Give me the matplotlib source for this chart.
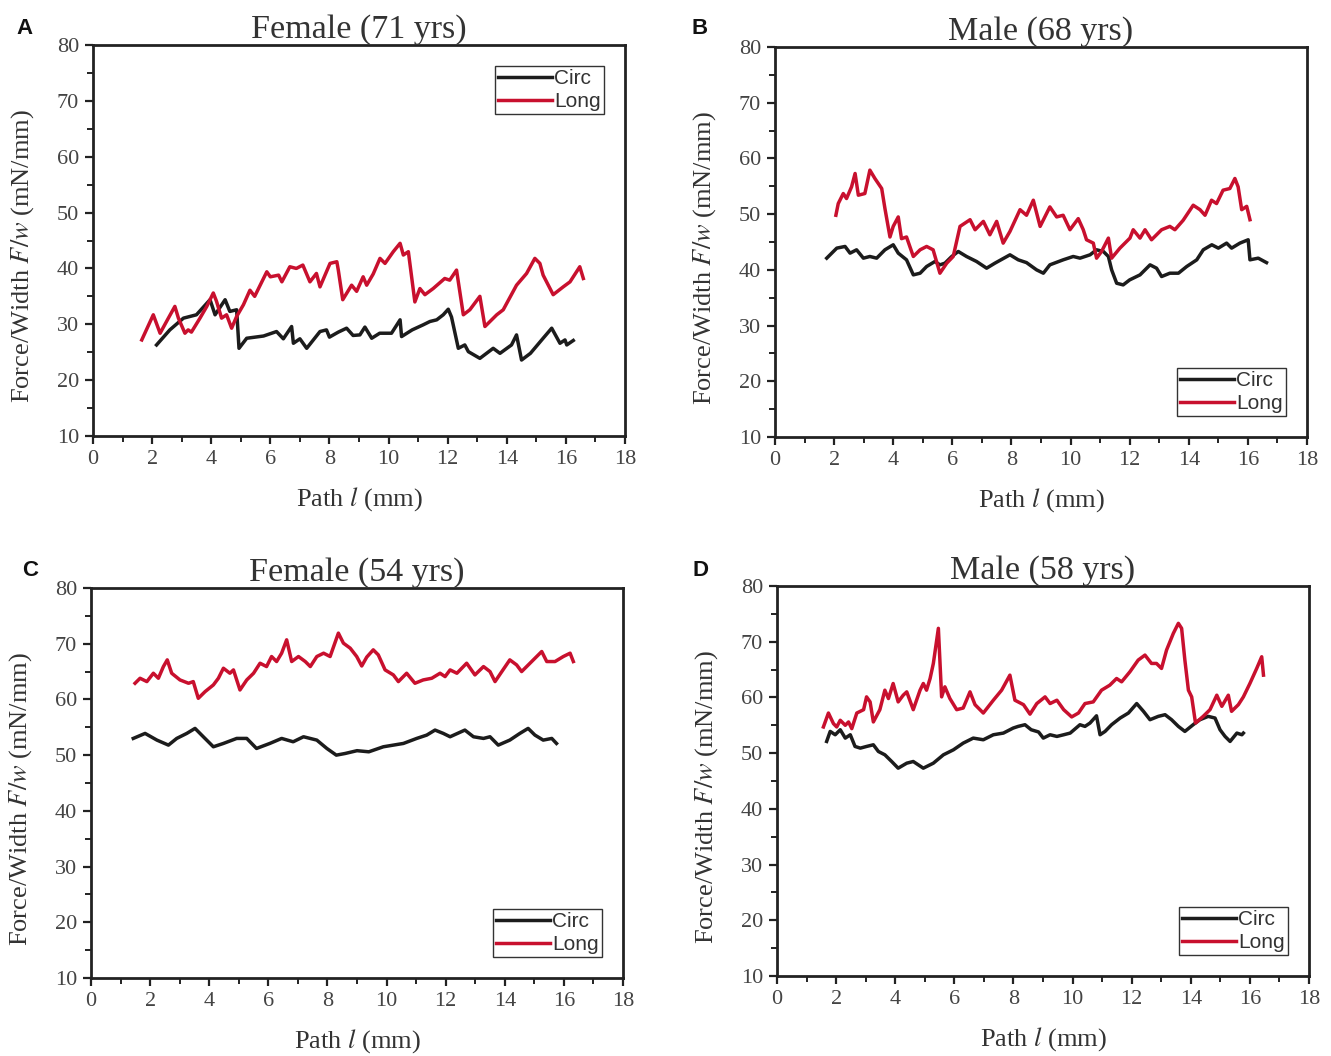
import matplotlib
matplotlib.use("Agg")
import matplotlib.pyplot as plt
from matplotlib.ticker import MultipleLocator

plt.rcParams['font.family'] = ['Liberation Serif', 'DejaVu Serif']
plt.rcParams['mathtext.fontset'] = 'stix'

# ---------------- Panel A: Female (71 yrs) ----------------
a_circ_x = [2.15, 2.6, 3.06, 3.5, 3.96, 4.13, 4.47, 4.63, 4.86, 4.94, 5.2, 5.77, 6.21, 6.44, 6.72, 6.78, 7.0,
            7.23, 7.68, 7.9, 8.0, 8.3, 8.58, 8.8, 9.03, 9.2, 9.43, 9.7, 10.1, 10.39, 10.44, 10.8, 11.17,
            11.4, 11.63, 11.85, 12.02, 12.13, 12.36, 12.58, 12.7, 13.09, 13.54, 13.77, 14.16, 14.33, 14.5,
            14.8, 15.23, 15.52, 15.8, 15.97, 16.03, 16.25]
a_circ_y = [26.3, 29.0, 31.1, 31.7, 34.4, 31.7, 34.4, 32.3, 32.6, 25.7, 27.5, 27.9, 28.7, 27.4, 29.6, 26.6, 27.4,
            25.7, 28.7, 29.0, 27.7, 28.6, 29.3, 28.0, 28.1, 29.5, 27.5, 28.4, 28.4, 30.8, 27.8, 29.0, 29.9,
            30.5, 30.8, 31.7, 32.7, 31.3, 25.7, 26.3, 25.1, 23.9, 25.7, 24.8, 26.3, 28.1, 23.6,
            24.8, 27.5, 29.3, 26.6, 27.2, 26.3, 27.1]
a_long_x = [1.65, 2.04, 2.27, 2.55, 2.77, 2.89, 3.11, 3.22, 3.33, 3.62, 3.85, 4.07, 4.18, 4.35, 4.52, 4.69, 4.86,
            5.09, 5.31, 5.47, 5.88, 6.0, 6.28, 6.39, 6.66, 6.88, 7.1, 7.34, 7.56, 7.68, 8.02, 8.25, 8.3,
            8.45, 8.75, 8.92, 9.14, 9.26, 9.48, 9.71, 9.88, 10.16, 10.39, 10.5, 10.67, 10.89, 11.06, 11.23,
            11.51, 11.9, 12.07, 12.3, 12.53, 12.75, 13.09, 13.26, 13.66, 13.88, 14.33, 14.67, 14.95, 15.12,
            15.23, 15.57, 15.91, 16.14, 16.47, 16.59]
a_long_y = [27.2, 31.7, 28.4, 31.1, 33.2, 31.1, 28.4, 29.0, 28.6, 31.1, 33.2, 35.6, 34.1, 31.1, 31.7, 29.3, 31.4,
            33.5, 36.1, 35.0, 39.4, 38.5, 38.8, 37.6, 40.3, 40.0, 40.6, 37.6, 39.1, 36.7, 40.9, 41.2, 39.7,
            34.4, 37.0, 35.9, 38.5, 37.0, 39.0, 41.8, 40.9, 43.0, 44.5, 42.4, 43.0, 34.0, 36.4, 35.3,
            36.4, 38.2, 37.9, 39.7, 31.7, 32.6, 35.0, 29.6, 31.7, 32.6, 37.0, 39.1, 41.8, 40.9,
            38.8, 35.3, 36.7, 37.6, 40.3, 38.2]

# ---------------- Panel B: Male (68 yrs) ----------------
b_circ_x = [1.75, 2.09, 2.37, 2.54, 2.76, 2.99, 3.21, 3.44, 3.72, 4.0, 4.17, 4.45, 4.68, 4.91, 5.13, 5.41, 5.58,
            5.75, 5.98, 6.2, 6.48, 6.82, 7.16, 7.44, 7.95, 8.23, 8.51, 8.85, 9.08, 9.3, 9.75, 10.09, 10.32,
            10.66, 10.88, 11.11, 11.28, 11.39, 11.56, 11.78, 12.0, 12.35, 12.69, 12.91, 13.08, 13.36, 13.65,
            13.93, 14.27, 14.49, 14.78, 15.0, 15.28, 15.45, 15.73, 16.01, 16.07, 16.35, 16.63]
b_circ_y = [42.1, 43.9, 44.2, 43.0, 43.6, 42.1, 42.4, 42.1, 43.6, 44.5, 43.0, 41.8, 39.1, 39.4, 40.6, 41.5, 40.9,
            41.2, 42.4, 43.3, 42.4, 41.5, 40.3, 41.2, 42.7, 41.8, 41.3, 40.0, 39.4, 40.9, 41.8, 42.4, 42.1,
            42.7, 43.6, 43.3, 42.4, 40.0, 37.6, 37.3, 38.2, 39.1, 40.9, 40.3, 38.8, 39.4, 39.4,
            40.6, 41.8, 43.6, 44.5, 43.9, 44.8, 43.9, 44.8, 45.4, 41.8, 42.1, 41.3]
b_long_x = [2.06, 2.14, 2.31, 2.42, 2.59, 2.71, 2.82, 3.04, 3.21, 3.38, 3.61, 3.72, 3.89, 4.0, 4.17, 4.28, 4.45,
            4.68, 4.91, 5.13, 5.35, 5.58, 5.81, 6.03, 6.26, 6.6, 6.77, 7.05, 7.27, 7.5, 7.72, 7.95, 8.29,
            8.51, 8.74, 8.97, 9.3, 9.53, 9.75, 9.98, 10.26, 10.43, 10.54, 10.77, 10.88, 11.05, 11.28, 11.39,
            11.67, 12.01, 12.12, 12.35, 12.52, 12.74, 13.08, 13.36, 13.53, 13.81, 14.15, 14.38, 14.55, 14.77,
            14.94, 15.16, 15.39, 15.56, 15.67, 15.79, 15.96, 16.07]
b_long_y = [49.8, 51.9, 53.7, 52.8, 54.9, 57.3, 53.4, 53.7, 57.9, 56.4, 54.6, 51.0, 45.9, 47.8, 49.5, 45.6, 45.9,
            42.4, 43.6, 44.2, 43.6, 39.4, 41.2, 42.4, 47.8, 49.0, 47.2, 48.7, 46.3, 48.7, 44.8, 46.9, 50.8,
            49.8, 52.5, 47.8, 51.3, 49.5, 49.8, 47.2, 49.2, 47.2, 45.4, 44.8, 42.1, 43.3, 45.7, 42.1,
            43.9, 45.7, 47.2, 45.7, 47.2, 45.4, 47.2, 47.8, 47.2, 48.9, 51.6, 50.8, 49.8, 52.5,
            51.9, 54.3, 54.6, 56.4, 54.9, 50.8, 51.4, 49.0]

# ---------------- Panel C: Female (54 yrs) ----------------
c_circ_x = [1.43, 1.83, 2.23, 2.62, 2.9, 3.24, 3.52, 3.8, 4.14, 4.48, 4.93, 5.27, 5.6, 6.05, 6.45, 6.84, 7.19,
            7.64, 7.98, 8.3, 8.6, 9.0, 9.4, 9.89, 10.57, 11.02, 11.36, 11.64, 11.92, 12.15, 12.65, 12.94,
            13.28, 13.5, 13.78, 14.17, 14.51, 14.79, 15.02, 15.3, 15.59, 15.75]
c_circ_y = [53.0, 53.9, 52.7, 51.8, 53.0, 53.9, 54.8, 53.3, 51.5, 52.1, 53.0, 53.0, 51.2, 52.1, 53.0, 52.4, 53.3,
            52.7, 51.2, 50.0, 50.3, 50.8, 50.6, 51.5, 52.1, 53.0, 53.6, 54.5, 53.9, 53.3, 54.5, 53.3,
            53.0, 53.3, 51.8, 52.7, 53.9, 54.8, 53.6, 52.7, 53.0, 52.1]
c_long_x = [1.49, 1.66, 1.89, 2.11, 2.28, 2.45, 2.58, 2.73, 3.01, 3.3, 3.46, 3.63, 3.86, 4.14, 4.31, 4.48, 4.7,
            4.82, 5.04, 5.27, 5.5, 5.72, 5.94, 6.11, 6.28, 6.45, 6.62, 6.79, 7.02, 7.25, 7.42, 7.64, 7.87,
            8.09, 8.37, 8.54, 8.77, 8.99, 9.16, 9.33, 9.55, 9.72, 9.95, 10.23, 10.4, 10.68, 10.96, 11.24,
            11.53, 11.81, 11.98, 12.15, 12.38, 12.71, 12.99, 13.28, 13.5, 13.67, 13.9, 14.17, 14.4, 14.57,
            14.91, 15.25, 15.42, 15.7, 15.98, 16.21, 16.32]
c_long_y = [62.9, 63.8, 63.2, 64.7, 63.8, 65.9, 67.1, 64.7, 63.5, 62.9, 63.2, 60.2, 61.4, 62.6, 63.8, 65.6, 64.7,
            65.3, 61.7, 63.5, 64.7, 66.5, 65.9, 67.7, 66.8, 68.3, 70.7, 66.8, 67.7, 66.8, 65.9, 67.7, 68.3,
            67.7, 71.9, 70.1, 69.2, 67.7, 66.0, 67.6, 68.9, 68.0, 65.3, 64.4, 63.2, 64.7, 62.9, 63.5,
            63.8, 64.7, 64.1, 65.3, 64.7, 66.5, 64.4, 65.9, 65.0, 63.2, 65.0, 67.1, 66.2, 65.0,
            66.8, 68.6, 66.8, 66.8, 67.7, 68.3, 66.8]

# ---------------- Panel D: Male (58 yrs) ----------------
d_circ_x = [1.68, 1.8, 1.97, 2.14, 2.31, 2.48, 2.64, 2.82, 3.03, 3.26, 3.43, 3.65, 3.88, 4.1, 4.39, 4.61, 4.95,
            5.29, 5.63, 5.97, 6.3, 6.64, 6.98, 7.32, 7.66, 7.99, 8.16, 8.39, 8.6, 8.85, 9.01, 9.24, 9.47,
            9.7, 9.92, 10.25, 10.42, 10.59, 10.81, 10.93, 11.1, 11.32, 11.61, 11.89, 12.17, 12.4, 12.62,
            12.9, 13.13, 13.35, 13.58, 13.8, 14.08, 14.31, 14.59, 14.82, 14.99, 15.16, 15.33, 15.56, 15.73,
            15.78]
d_circ_y = [52.1, 53.9, 53.3, 54.2, 52.7, 53.3, 51.2, 50.9, 51.2, 51.5, 50.3, 49.7, 48.5, 47.3, 48.2, 48.5, 47.3,
            48.2, 49.7, 50.6, 51.8, 52.7, 52.4, 53.3, 53.6, 54.5, 54.8, 55.1, 54.2, 53.8, 52.7, 53.3, 53.0,
            53.3, 53.6, 55.1, 54.8, 55.4, 56.7, 53.3, 53.9, 55.1, 56.3, 57.2, 58.9, 57.5, 56.0,
            56.6, 56.9, 56.0, 54.8, 53.9, 55.1, 56.0, 56.6, 56.3, 54.2, 53.0, 52.1, 53.6, 53.3,
            53.6]
d_long_x = [1.57, 1.74, 1.91, 2.02, 2.14, 2.31, 2.42, 2.53, 2.7, 2.93, 3.03, 3.15, 3.26, 3.48, 3.65, 3.77, 3.93,
            4.1, 4.27, 4.39, 4.61, 4.84, 4.95, 5.06, 5.18, 5.29, 5.46, 5.57, 5.68, 5.85, 6.08, 6.3, 6.53,
            6.7, 6.98, 7.32, 7.6, 7.88, 8.05, 8.34, 8.56, 8.79, 9.07, 9.24, 9.47, 9.7, 9.97, 10.2, 10.42,
            10.7, 10.98, 11.26, 11.49, 11.66, 11.94, 12.22, 12.45, 12.67, 12.84, 13.01, 13.18, 13.41, 13.58,
            13.69, 13.8, 13.92, 14.03, 14.16, 14.42, 14.65, 14.88, 15.05, 15.27, 15.38, 15.61, 15.78, 16.0,
            16.23, 16.4, 16.46]
d_long_y = [54.7, 57.2, 55.3, 54.7, 55.9, 55.0, 55.6, 54.4, 57.2, 57.8, 60.1, 59.2, 55.6, 57.8, 61.3, 59.8, 62.5,
            59.2, 60.4, 61.0, 57.8, 61.3, 62.5, 61.3, 63.4, 66.1, 72.4, 60.1, 61.9, 59.8, 57.8, 58.1, 61.0,
            58.7, 57.2, 59.5, 61.3, 64.0, 59.5, 58.7, 57.0, 58.9, 60.1, 58.9, 59.5, 57.8, 56.5, 57.2, 58.9,
            59.2, 61.3, 62.2, 63.4, 62.8, 64.6, 66.7, 67.6, 66.1, 66.1, 65.2, 68.5, 71.5, 73.3,
            72.4, 66.7, 61.3, 60.1, 55.4, 56.6, 57.8, 60.4, 58.4, 60.4, 57.5, 58.7, 60.1, 62.5,
            65.2, 67.3, 64.0]

titles = ["Female (71 yrs)", "Male (68 yrs)", "Female (54 yrs)", "Male (58 yrs)"]
letters = ["A", "B", "C", "D"]
legend_labels = ["Circ", "Long"]

W, H = 1331, 1056
fig = plt.figure(figsize=(W / 100, H / 100), dpi=100)

# axes boxes in pixels: left, top, right, bottom
boxes = [(93, 45, 625, 436), (775, 47, 1307, 437), (91, 588, 623, 978), (777, 586, 1309, 976)]
legend_locs = ["upper right", "lower right", "lower right", "lower right"]
letter_pos = [(25, 28), (700, 28), (30, 571), (700, 571)]
data = [(a_circ_x, a_circ_y, a_long_x, a_long_y),
        (b_circ_x, b_circ_y, b_long_x, b_long_y),
        (c_circ_x, c_circ_y, c_long_x, c_long_y),
        (d_circ_x, d_circ_y, d_long_x, d_long_y)]

BLACK = "#1c1c1c"
RED = "#c8102e"
TXT = "#333333"

for i, (l, t, r, b) in enumerate(boxes):
    ax = fig.add_axes([l / W, 1 - b / H, (r - l) / W, (b - t) / H])
    cx, cy, lx, ly = data[i]
    ax.plot(cx, cy, color=BLACK, lw=2.5, label=legend_labels[0], solid_joinstyle='round')
    ax.plot(lx, ly, color=RED, lw=2.5, label=legend_labels[1], solid_joinstyle='round')
    ax.set_xlim(0, 18)
    ax.set_ylim(10, 80)
    ax.xaxis.set_major_locator(MultipleLocator(2))
    ax.xaxis.set_minor_locator(MultipleLocator(1))
    ax.yaxis.set_major_locator(MultipleLocator(10))
    ax.yaxis.set_minor_locator(MultipleLocator(5))
    ax.tick_params(which='major', direction='out', length=6, width=1.6, labelsize=16, pad=4, colors='#222222')
    ax.tick_params(which='minor', direction='out', length=4, width=1.4, colors='#222222')
    ax.tick_params(labelcolor='#444444')
    for s in ax.spines.values():
        s.set_linewidth(2.0)
        s.set_color('#222222')
    ax.set_xlabel("Path $l$ (mm)", fontsize=19, labelpad=12, color=TXT)
    ax.set_ylabel("Force/Width $F/w$ (mN/mm)", fontsize=19, color=TXT)
    ax.yaxis.set_label_coords(-0.108, 0.46)
    ax.set_title(titles[i], fontsize=24.5, pad=5, color=TXT)
    leg = ax.legend(loc=legend_locs[i], fancybox=False, framealpha=1, edgecolor='#333333',
                    prop={'family': 'Liberation Sans', 'size': 15}, handlelength=2.6,
                    handletextpad=0.1, borderpad=0.15, labelspacing=0.2, borderaxespad=1.0)
    leg.get_frame().set_linewidth(1.0)
    for txt in leg.get_texts():
        txt.set_color(TXT)
    lx0, ly0 = letter_pos[i]
    fig.text(lx0 / W, 1 - ly0 / H, letters[i], fontsize=16, fontweight='bold',
             family='Liberation Sans', ha='center', va='center', color='#111111')

fig.savefig("out.png", dpi=100)
